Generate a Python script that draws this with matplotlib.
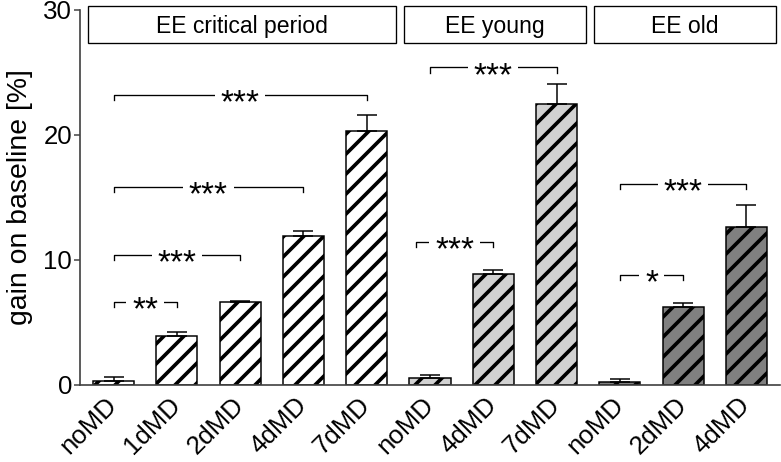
import numpy as np
import matplotlib
matplotlib.use("Agg")
import matplotlib.pyplot as plt
from matplotlib.patches import Rectangle

plt.rcParams['font.family'] = ['Liberation Sans', 'DejaVu Sans']
plt.rcParams['hatch.linewidth'] = 2.2

# data
labels = ["noMD", "1dMD", "2dMD", "4dMD", "7dMD",
          "noMD", "4dMD", "7dMD",
          "noMD", "2dMD", "4dMD"]
means = [0.35, 3.92, 6.6, 11.92, 20.34, 0.56, 8.88, 22.48, 0.24, 6.27, 12.66]
sems = [0.3, 0.3, 0.15, 0.43, 1.26, 0.24, 0.29, 1.62, 0.21, 0.32, 1.76]
group_names = ["EE critical period", "EE young", "EE old"]
group_sizes = [5, 3, 3]
group_colors = ["white", "#d2d2d2", "#808080"]

# significance brackets: (from, to, height, stars)
brackets = [
    (0, 1, 6.65, "**"),
    (0, 2, 10.4, "***"),
    (0, 3, 15.84, "***"),
    (0, 4, 23.2, "***"),
    (4.78, 6, 11.47, "***"),
    (5, 7, 25.4, "***"),
    (8, 9, 8.8, "*"),
    (8, 10, 16.08, "***"),
]

x = np.arange(len(labels))
colors = []
for c, n in zip(group_colors, group_sizes):
    colors += [c] * n

fig = plt.figure(figsize=(781 / 120, 462 / 120), dpi=120)
ax = fig.add_axes([0.1024, 0.1667, 0.8963, 0.8117])

ax.bar(x, means, width=0.65, color=colors, edgecolor="black",
       linewidth=0.9, hatch="//", zorder=2)
ax.errorbar(x, means, yerr=[np.zeros(len(sems)), sems], fmt="none",
            ecolor="black", elinewidth=0.9, capsize=6, capthick=0.9, zorder=3)

ax.set_xlim(-0.53, len(labels) - 0.47)
ax.set_ylim(0, 30)
ax.set_yticks([0, 10, 20, 30])
ax.set_xticks(x, labels, rotation=45, ha="right", va="center",
              rotation_mode="anchor")

spine_col = "#404040"
for s in ["top", "right"]:
    ax.spines[s].set_visible(False)
for s in ["left", "bottom"]:
    ax.spines[s].set_color(spine_col)
    ax.spines[s].set_linewidth(1.0)
ax.tick_params(axis="y", length=3.6, width=0.9, color=spine_col,
               labelsize=15.5, pad=1.2)
ax.tick_params(axis="x", length=0, labelsize=15.5, pad=10)
ax.set_ylabel("gain on baseline [%]", fontsize=17, labelpad=6)

# header boxes above each group
start = 0
for name, n in zip(group_names, group_sizes):
    left = start - 0.5 + 0.09
    right = start + n - 0.5 - 0.04
    ax.add_patch(Rectangle((left, 27.36), right - left, 2.94, fc="white",
                           ec="black", lw=0.8, clip_on=False, zorder=4))
    ax.annotate(name, xy=((left + right) / 2, 27.36 + 1.47), xytext=(0, -5.1),
                textcoords="offset points", ha="center", va="baseline",
                fontsize=13.8, annotation_clip=False, zorder=5)
    start += n

drop = 0.44
for x1, x2, y, stars in brackets:
    ax.plot([x1, x1, x2, x2], [y - drop, y, y, y - drop], color="black",
            lw=0.8, zorder=3)
    ax.annotate(stars, xy=((x1 + x2) / 2, y), xytext=(0, -10.6),
                textcoords="offset points", ha="center", va="baseline",
                fontsize=20, zorder=4,
                bbox=dict(fc="white", ec="none", pad=3.5))

fig.savefig("out.png", dpi=120)
